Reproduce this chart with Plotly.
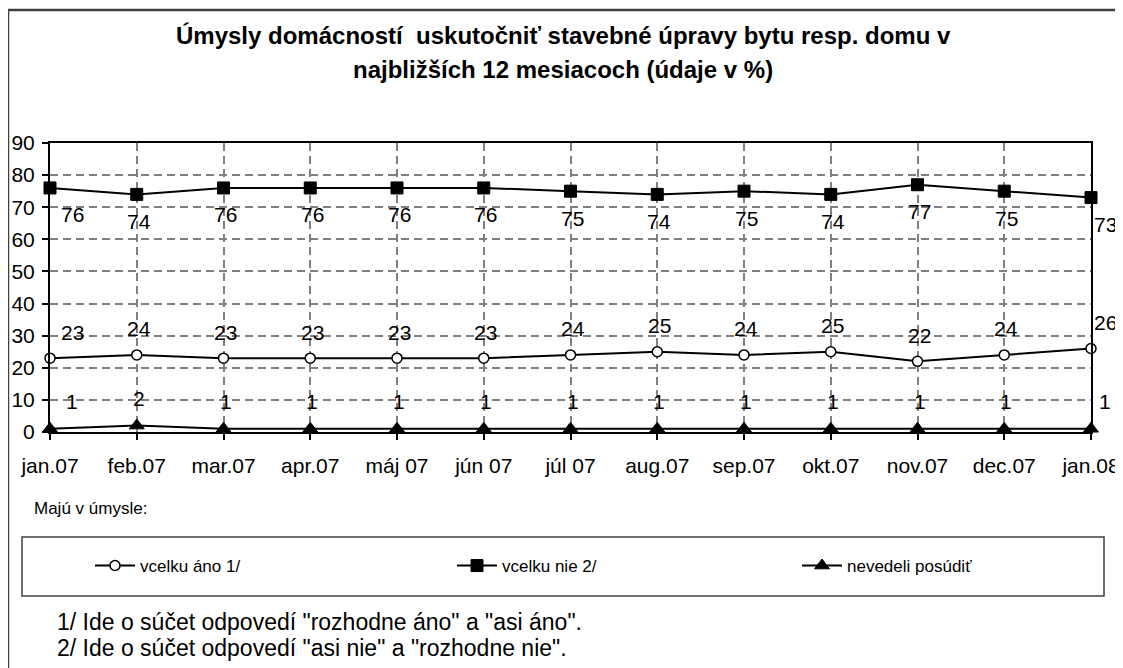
import plotly.graph_objects as go

months = ["jan.07", "feb.07", "mar.07", "apr.07", "máj 07", "jún 07", "júl 07",
          "aug.07", "sep.07", "okt.07", "nov.07", "dec.07", "jan.08"]
ano = [23, 24, 23, 23, 23, 23, 24, 25, 24, 25, 22, 24, 26]
nie = [76, 74, 76, 76, 76, 76, 75, 74, 75, 74, 77, 75, 73]
nevedeli = [1, 2, 1, 1, 1, 1, 1, 1, 1, 1, 1, 1, 1]
names = ["vcelku áno 1/", "vcelku nie 2/", "nevedeli posúdiť"]
title_lines = ["Úmysly domácností  uskutočniť stavebné úpravy bytu resp. domu v",
               "najbližších 12 mesiacoch (údaje v %)"]
subtitle = "Majú v úmysle:"
notes = ['1/ Ide o súčet odpovedí "rozhodne áno" a "asi áno".',
         '2/ Ide o súčet odpovedí "asi nie" a "rozhodne nie".']

FONT = "Liberation Sans, Arial, sans-serif"
W, H = 1123, 668
L, R, T, B = 42, 40, 135, 244
OFF = 8  # page body margin

ph = H - T - B
pw = W - L - R
def py(ypix):
    return 1 - (ypix - OFF - T) / ph
def px(xpix):
    return (xpix - OFF - L) / pw

fig = go.Figure()
styles = [
    dict(symbol="circle", size=10, color="white", line=dict(color="black", width=1.5)),
    dict(symbol="square", size=12, color="black", line=dict(color="black", width=1)),
    dict(symbol="triangle-up", size=13, color="black", line=dict(color="black", width=1)),
]
legend_ids = ["legend", "legend2", "legend3"]
for name, vals, mk, lg in zip(names, [ano, nie, nevedeli], styles, legend_ids):
    fig.add_trace(go.Scatter(x=months, y=vals, name=name, mode="lines+markers",
                             line=dict(color="black", width=2), marker=mk,
                             cliponaxis=False, legend=lg))

# data labels
label_shift = {0: 26, 1: -27, 2: 27}
for si, vals in enumerate([ano, nie, nevedeli]):
    for i, (m, v) in enumerate(zip(months, vals)):
        dx = 2
        if i == 0:
            dx = 22
        elif i == len(months) - 1:
            dx = 14
        fig.add_annotation(x=m, y=v, text=str(v), showarrow=False,
                           xshift=dx, yshift=label_shift[si],
                           font=dict(family=FONT, size=21, color="black"))

def leg(xs):
    return dict(orientation="h", x=px(xs), y=py(566), xanchor="left", yanchor="middle",
                font=dict(family=FONT, size=17, color="black"), itemwidth=40,
                bgcolor="rgba(0,0,0,0)", itemclick=False, itemdoubleclick=False)

fig.update_layout(
    width=W, height=H,
    margin=dict(l=L, r=R, t=T, b=B, autoexpand=False),
    paper_bgcolor="white", plot_bgcolor="white",
    font=dict(family=FONT, color="black"),
    showlegend=True,
    legend=leg(90), legend2=leg(452), legend3=leg(797),
)

fig.update_xaxes(type="category", range=[0, len(months) - 1], automargin=False,
                 showline=True, linecolor="black", linewidth=2, mirror=True,
                 showgrid=True, gridcolor="#808080", griddash="8px,5px", gridwidth=1.5,
                 ticks="outside", ticklen=6, tickcolor="black", tickwidth=1.5,
                 ticklabelstandoff=8,
                 tickfont=dict(family=FONT, size=21, color="black"),
                 zeroline=False)
fig.update_yaxes(range=[0, 90], dtick=10, tick0=0, automargin=False,
                 showline=True, linecolor="black", linewidth=2, mirror=True,
                 showgrid=True, gridcolor="#808080", griddash="8px,5px", gridwidth=1.5,
                 ticks="outside", ticklen=6, tickcolor="black", tickwidth=1.5,
                 ticklabelstandoff=3,
                 tickfont=dict(family=FONT, size=21, color="black"),
                 zeroline=False)

# title
for k, yy in enumerate([36, 70]):
    fig.add_annotation(xref="paper", yref="paper", x=px(563), y=py(yy),
                       xanchor="center", yanchor="middle",
                       showarrow=False, text="<b>" + title_lines[k] + "</b>",
                       font=dict(family=FONT, size=24, color="black"))

fig.add_annotation(xref="paper", yref="paper", x=px(32), y=py(508), xanchor="left",
                   yanchor="middle", showarrow=False, text=subtitle,
                   font=dict(family=FONT, size=17, color="black"))
for k, yy in enumerate([622, 648]):
    fig.add_annotation(xref="paper", yref="paper", x=px(55), y=py(yy),
                       xanchor="left", yanchor="middle", showarrow=False, text=notes[k],
                       font=dict(family=FONT, size=23, color="black"))

# legend frame and outer frame
fig.add_shape(type="rect", xref="paper", yref="paper", x0=px(22), x1=px(1104),
              y0=py(596), y1=py(537), line=dict(color="#404040", width=1.5))
fig.add_shape(type="rect", xref="paper", yref="paper", x0=px(8), x1=px(8 + W - 1),
              y0=py(8 + H - 1), y1=py(10), line=dict(color="#404040", width=2.5))

fig.write_html("out.html")
